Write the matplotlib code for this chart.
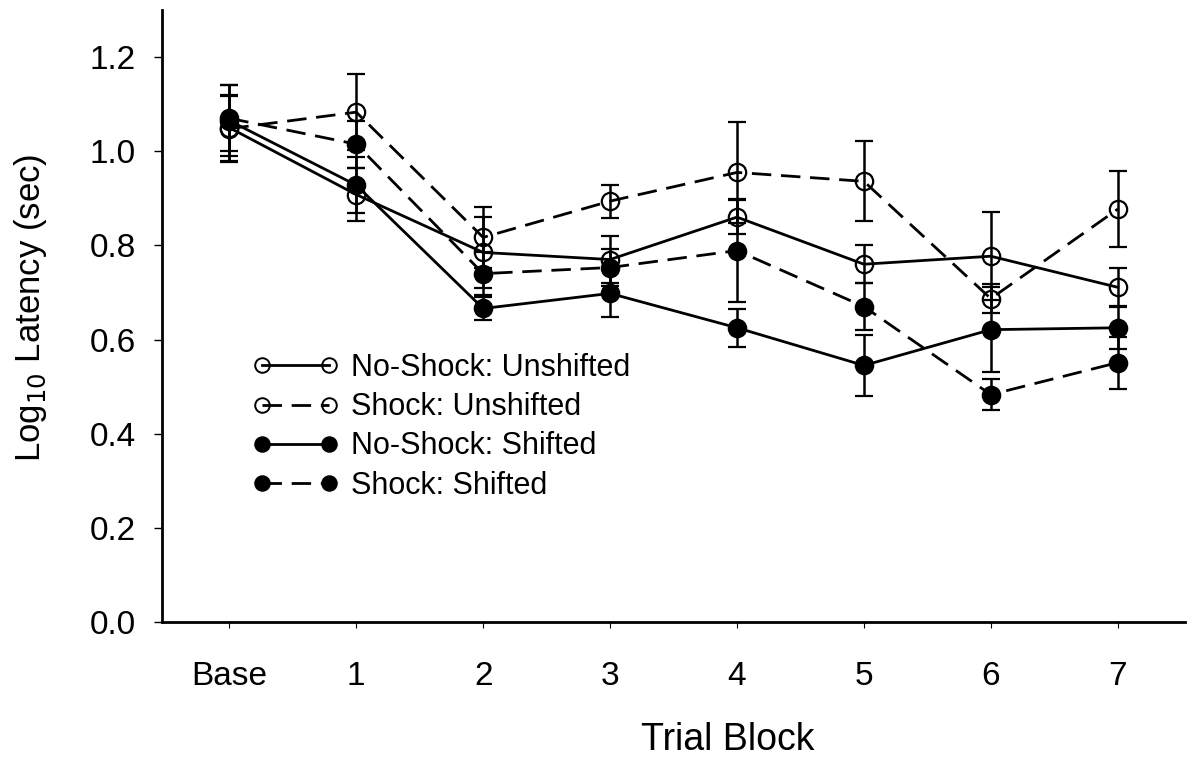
import matplotlib
matplotlib.use("Agg")
import matplotlib.pyplot as plt
from matplotlib.lines import Line2D
import numpy as np

# Trial blocks
blocks = ["Base", "1", "2", "3", "4", "5", "6", "7"]

# Log10 latency means
ns_unshifted = [1.05, 0.908, 0.785, 0.770, 0.860, 0.760, 0.777, 0.711]
s_unshifted = [1.048, 1.083, 0.817, 0.894, 0.955, 0.936, 0.687, 0.877]
ns_shifted = [1.065, 0.928, 0.666, 0.698, 0.625, 0.545, 0.621, 0.625]
s_shifted = [1.070, 1.015, 0.740, 0.753, 0.789, 0.670, 0.483, 0.551]

# Standard errors
ns_unshifted_err = [0.07, 0.057, 0.075, 0.05, 0.036, 0.04, 0.093, 0.04]
s_unshifted_err = [0.07, 0.08, 0.065, 0.035, 0.107, 0.085, 0.03, 0.08]
ns_shifted_err = [0.075, 0.06, 0.025, 0.05, 0.04, 0.065, 0.09, 0.045]
s_shifted_err = [0.07, 0.05, 0.045, 0.04, 0.11, 0.05, 0.033, 0.055]

plt.rcParams["font.family"] = ["Liberation Sans", "DejaVu Sans"]

fig = plt.figure(figsize=(11.96, 7.57), dpi=100)
ax = fig.add_axes([0.1355, 0.1783, 0.8553, 0.8085])

x = np.arange(len(blocks))
DASH = (0, (7, 3.5))
series = [
    (ns_unshifted, ns_unshifted_err, "none", "-", "No-Shock: Unshifted"),
    (s_unshifted, s_unshifted_err, "none", DASH, "Shock: Unshifted"),
    (ns_shifted, ns_shifted_err, "black", "-", "No-Shock: Shifted"),
    (s_shifted, s_shifted_err, "black", DASH, "Shock: Shifted"),
]
handles = []
for y, err, face, ls, label in series:
    ax.errorbar(x, y, yerr=err, color="black", lw=2, ls=ls,
                marker="o", ms=12.5, mfc=face, mec="black", mew=1.6,
                ecolor="black", elinewidth=1.8, capsize=6.5, capthick=2.2)
    handles.append(Line2D([], [], color="black", lw=2, ls=ls, marker="o",
                          ms=10.5, mfc=face, mec="black", mew=1.4, label=label))

ax.set_xlim(-0.53, 7.53)
ax.set_ylim(0, 1.3)
ax.set_xticks(x)
ax.set_xticklabels(blocks)
ax.set_yticks(np.arange(0, 1.21, 0.2))
ax.set_yticklabels([f"{v:.1f}" for v in np.arange(0, 1.21, 0.2)])
ax.tick_params(axis="both", labelsize=24)
ax.tick_params(axis="x", length=4, width=0.8, pad=24, direction="out")
ax.tick_params(axis="y", length=6, width=1, pad=13)

for side in ["top", "right"]:
    ax.spines[side].set_visible(False)
for side in ["left", "bottom"]:
    ax.spines[side].set_linewidth(2)

ax.set_xlabel("Trial Block", fontsize=27, labelpad=22, x=0.553)
ax.set_ylabel("Log$_{10}$ Latency (sec)", fontsize=25, labelpad=29, y=0.513)

ax.legend(handles=handles, loc="center left", bbox_to_anchor=(0.062, 0.319),
          frameon=False, fontsize=22, handlelength=2.8, numpoints=2,
          labelspacing=0.3, handletextpad=0.4)

fig.savefig("out.png", dpi=100)
